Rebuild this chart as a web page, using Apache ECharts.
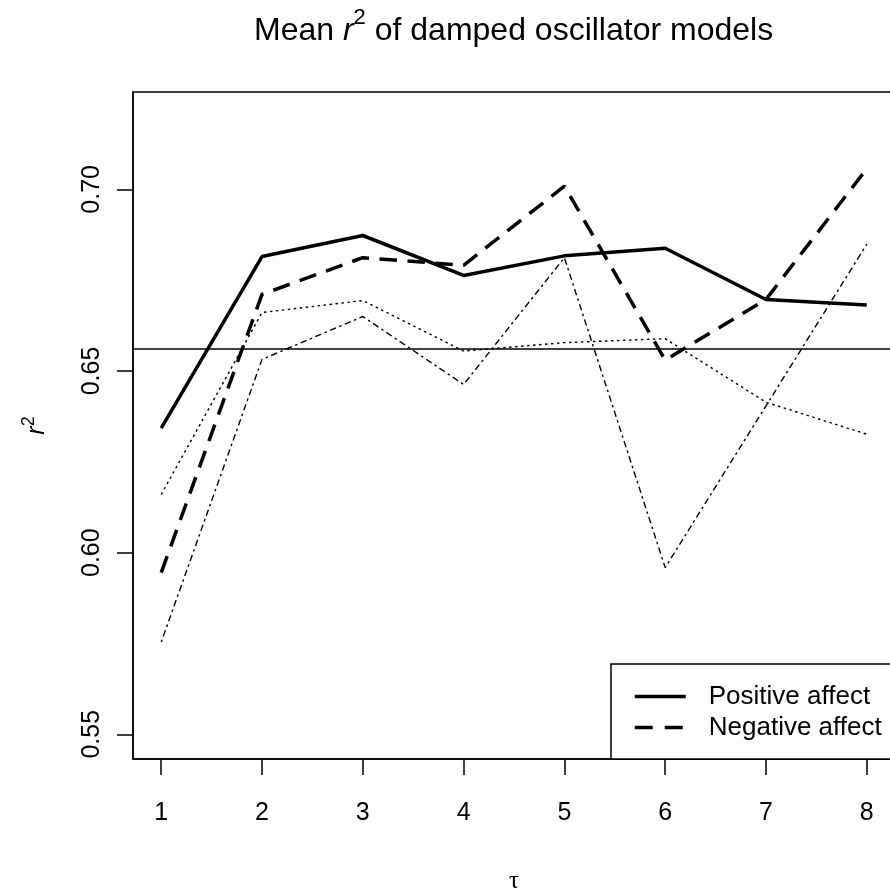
<!DOCTYPE html>
<html>
<head>
<meta charset="utf-8">
<script src="https://cdn.jsdelivr.net/npm/echarts@6/dist/echarts.min.js"></script>
<style>
  html, body { margin: 0; padding: 0; background: #fff; }
  #chart { width: 890px; height: 895px; }
</style>
</head>
<body>
<div id="chart"></div>
<script>
// ---- data ----
const tau = [1, 2, 3, 4, 5, 6, 7, 8];
const positiveAffect = [0.6343, 0.6815, 0.6873, 0.6763, 0.6817, 0.6838, 0.6697, 0.6682];
const negativeAffect = [0.5945, 0.6711, 0.6812, 0.6791, 0.7009, 0.6530, 0.6697, 0.7057];
const dottedSeries   = [0.6160, 0.6661, 0.6694, 0.6555, 0.6578, 0.6589, 0.6414, 0.6326];
const dashDotSeries  = [0.5754, 0.6532, 0.6650, 0.6463, 0.6812, 0.5959, 0.6404, 0.6849];
const overallMean = 0.6560;
const xTicks = [1, 2, 3, 4, 5, 6, 7, 8];
const yTicks = [0.55, 0.60, 0.65, 0.70];

const FONT = "'Liberation Sans', Arial, Helvetica, sans-serif";
const pairs = (ys) => tau.map((x, i) => [x, ys[i]]);

const chart = echarts.init(document.getElementById('chart'), null, { renderer: 'canvas' });

chart.setOption({
  animation: false,
  backgroundColor: '#fff',
  color: ['#000'],
  title: {
    text: '{n|Mean }{i|r}{s|2}{n| of damped oscillator models}',
    left: 254,
    top: 7,
    padding: 0,
    textStyle: {
      fontWeight: 'normal',
      rich: {
        n: { fontFamily: FONT, fontSize: 32, fontWeight: 'normal', color: '#000', lineHeight: 48 },
        i: { fontFamily: FONT, fontSize: 32, fontWeight: 'normal', color: '#000', fontStyle: 'italic', lineHeight: 48 },
        s: { fontFamily: FONT, fontSize: 22, fontWeight: 'normal', color: '#000', lineHeight: 22, verticalAlign: 'top' }
      }
    }
  },
  grid: {
    left: 133,
    top: 92,
    width: 762,
    height: 667,
    show: true,
    borderColor: '#000',
    borderWidth: 1.5,
    backgroundColor: 'transparent',
    outerBoundsMode: 'none',
    containLabel: false
  },
  legend: {
    data: [
      { name: 'Positive affect' },
      { name: 'Negative affect', lineStyle: { type: [18, 12] } }
    ],
    orient: 'vertical',
    left: 611,
    top: 664,
    padding: [17, 30, 16, 22],
    itemGap: 0,
    itemWidth: 51,
    itemHeight: 31,
    borderColor: '#000',
    borderWidth: 1.5,
    borderRadius: 0,
    backgroundColor: '#fff',
    selectedMode: false,
    itemStyle: { opacity: 0, borderWidth: 0 },
    lineStyle: { width: 3.5, color: '#000' },
    textStyle: {
      fontFamily: FONT,
      fontSize: 26,
      lineHeight: 31,
      color: '#000',
      padding: [0, 0, 0, 18]
    }
  },
  xAxis: {
    type: 'value',
    min: 0.72,
    max: 8.28,
    name: 'τ',
    nameLocation: 'middle',
    nameGap: 110,
    nameTextStyle: { fontFamily: "'Liberation Serif', 'DejaVu Serif', serif", fontSize: 25, color: '#000' },
    axisLine: { show: true, onZero: false, lineStyle: { color: '#000', width: 1.5 } },
    axisTick: { show: true, inside: false, length: 16, customValues: xTicks, lineStyle: { color: '#000', width: 1.5 } },
    axisLabel: { show: true, customValues: xTicks, margin: 42, fontFamily: FONT, fontSize: 25, color: '#000' },
    splitLine: { show: false }
  },
  yAxis: {
    type: 'value',
    min: 0.5432,
    max: 0.7268,
    name: '{i|r}{s|2}',
    nameLocation: 'middle',
    nameRotate: 90,
    nameGap: 79,
    nameTextStyle: {
      rich: {
        i: { fontFamily: FONT, fontSize: 25, color: '#000', fontStyle: 'italic', lineHeight: 34 },
        s: { fontFamily: FONT, fontSize: 18, color: '#000', lineHeight: 18, verticalAlign: 'top' }
      }
    },
    axisLine: { show: true, onZero: false, lineStyle: { color: '#000', width: 1.5 } },
    axisTick: { show: true, inside: false, length: 16, customValues: yTicks, lineStyle: { color: '#000', width: 1.5 } },
    axisLabel: {
      show: true,
      customValues: yTicks,
      rotate: 90,
      margin: 28,
      fontFamily: FONT,
      fontSize: 25,
      color: '#000',
      formatter: (v) => v.toFixed(2)
    },
    splitLine: { show: false }
  },
  series: [
    {
      name: 'Dotted',
      type: 'line',
      data: pairs(dottedSeries),
      symbol: 'none',
      itemStyle: { color: '#000' },
      lineStyle: { color: '#000', width: 1.4, type: [2.5, 3.5] },
      z: 2
    },
    {
      name: 'Dash-dot',
      type: 'line',
      data: pairs(dashDotSeries),
      symbol: 'none',
      itemStyle: { color: '#000' },
      lineStyle: { color: '#000', width: 1.4, type: [2.5, 3.5, 6.5, 3.5] },
      z: 2
    },
    {
      name: 'Positive affect',
      type: 'line',
      data: pairs(positiveAffect),
      symbol: 'none',
      itemStyle: { color: '#000' },
      lineStyle: { color: '#000', width: 3.5, type: 'solid' },
      z: 3,
      markLine: {
        silent: true,
        precision: 6,
        symbol: ['none', 'none'],
        label: { show: false },
        lineStyle: { color: '#000', width: 1.5, type: 'solid' },
        data: [{ yAxis: overallMean }]
      }
    },
    {
      name: 'Negative affect',
      type: 'line',
      data: pairs(negativeAffect),
      symbol: 'none',
      itemStyle: { color: '#000' },
      lineStyle: { color: '#000', width: 3.5, type: [17.5, 10.5] },
      z: 3
    }
  ]
});
</script>
</body>
</html>
